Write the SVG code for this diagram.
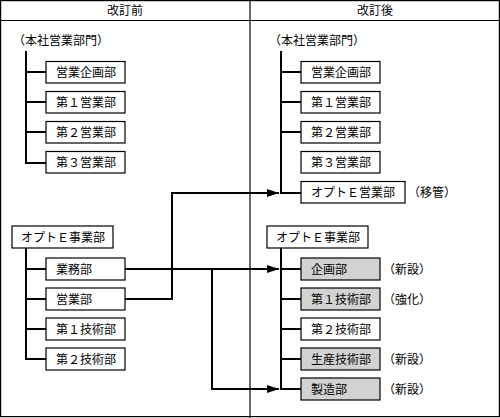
<svg xmlns="http://www.w3.org/2000/svg" width="500" height="418" viewBox="0 0 500 418">
<defs>
<style>
text{font-family:"Noto Sans CJK JP","Noto Sans CJK SC",sans-serif;font-size:12px;fill:#000}
.box{fill:#fff;stroke:#000;stroke-width:1.2}
.gray{fill:#d2d2d2;stroke:#000;stroke-width:1.2}
.tree{fill:none;stroke:#000;stroke-width:2}
.frame{fill:none;stroke:#000;stroke-width:1.2}
.hd{text-anchor:middle}
</style>
<marker id="arr" viewBox="0 0 12 8" refX="12" refY="4" markerWidth="12" markerHeight="8" markerUnits="userSpaceOnUse" orient="auto">
<path d="M0,0 L12,4 L0,8 Z" fill="#000"/>
</marker>
</defs>
<rect x="0.6" y="0.6" width="498.8" height="416" fill="#fff" class="frame"/>
<line x1="0" y1="20.5" x2="500" y2="20.5" class="frame"/>
<line x1="250" y1="0" x2="250" y2="418" class="frame"/>
<text x="125" y="15" class="hd">改訂前</text>
<text x="375" y="15" class="hd">改訂後</text>

<g id="left-honsha">
<text x="13" y="45">（本社営業部門）</text>
<path class="tree" d="M26,51 V163 H46 M26,72 H46 M26,102 H46 M26,132 H46"/>
<g id="l-eigyokikaku"><rect class="box" x="46" y="61.5" width="79" height="21.5"/><text x="56" y="76.5">営業企画部</text></g>
<g id="l-eigyo1"><rect class="box" x="46" y="91.5" width="79" height="21.5"/><text x="56" y="106.5">第１営業部</text></g>
<g id="l-eigyo2"><rect class="box" x="46" y="121.5" width="79" height="21.5"/><text x="56" y="136.5">第２営業部</text></g>
<g id="l-eigyo3"><rect class="box" x="46" y="151.5" width="79" height="21.5"/><text x="56" y="166.5">第３営業部</text></g>
</g>

<g id="left-opto">
<path class="tree" d="M26,248 V359 H46 M26,269 H46 M26,299 H46 M26,329 H46"/>
<g id="l-optoe"><rect class="box" x="12" y="226" width="101" height="22"/><text x="21" y="241.5">オプトＥ事業部</text></g>
<g id="l-gyomu"><rect class="box" x="46" y="258" width="79" height="22"/><text x="56" y="273.5">業務部</text></g>
<g id="l-eigyo"><rect class="box" x="46" y="288" width="79" height="22"/><text x="56" y="303.5">営業部</text></g>
<g id="l-gijutsu1"><rect class="box" x="46" y="318" width="79" height="22"/><text x="56" y="333.5">第１技術部</text></g>
<g id="l-gijutsu2"><rect class="box" x="46" y="348" width="79" height="22"/><text x="56" y="363.5">第２技術部</text></g>
</g>

<g id="right-honsha">
<text x="269" y="45">（本社営業部門）</text>
<path class="tree" d="M281,51 V193 H301 M281,72 H301 M281,102 H301 M281,132 H301"/>
<g id="r-eigyokikaku"><rect class="box" x="301" y="61.5" width="79" height="21.5"/><text x="311" y="76.5">営業企画部</text></g>
<g id="r-eigyo1"><rect class="box" x="301" y="91.5" width="79" height="21.5"/><text x="311" y="106.5">第１営業部</text></g>
<g id="r-eigyo2"><rect class="box" x="301" y="121.5" width="79" height="21.5"/><text x="311" y="136.5">第２営業部</text></g>
<g id="r-eigyo3"><rect class="box" x="301" y="151.5" width="79" height="21.5"/><text x="311" y="166.5">第３営業部</text></g>
<g id="r-optoeigyo"><rect class="box" x="301" y="181.5" width="104" height="21.5"/><text x="311" y="196.5">オプトＥ営業部</text><text x="408" y="196.5">（移管）</text></g>
</g>

<g id="right-opto">
<path class="tree" d="M281,248 V389 H301 M281,269 H301 M281,299 H301 M281,329 H301 M281,359 H301"/>
<g id="r-optoe"><rect class="box" x="267" y="226" width="101" height="22"/><text x="276" y="241.5">オプトＥ事業部</text></g>
<g id="r-kikaku"><rect class="gray" x="301" y="258" width="79" height="22"/><text x="311" y="273.5">企画部</text><text x="383" y="273.5">（新設）</text></g>
<g id="r-gijutsu1"><rect class="gray" x="301" y="288" width="79" height="22"/><text x="311" y="303.5">第１技術部</text><text x="383" y="303.5">（強化）</text></g>
<g id="r-gijutsu2"><rect class="box" x="301" y="318" width="79" height="22"/><text x="311" y="333.5">第２技術部</text></g>
<g id="r-seisan"><rect class="gray" x="301" y="348" width="79" height="22"/><text x="311" y="363.5">生産技術部</text><text x="383" y="363.5">（新設）</text></g>
<g id="r-seizo"><rect class="gray" x="301" y="378" width="79" height="22"/><text x="311" y="393.5">製造部</text><text x="383" y="393.5">（新設）</text></g>
</g>

<g id="connectors">
<path class="tree" d="M125,269 H279" marker-end="url(#arr)"/>
<path class="tree" d="M212,269 V389 H279" marker-end="url(#arr)"/>
<path class="tree" d="M125,299 H172 V193 H279" marker-end="url(#arr)"/>
</g>
</svg>
